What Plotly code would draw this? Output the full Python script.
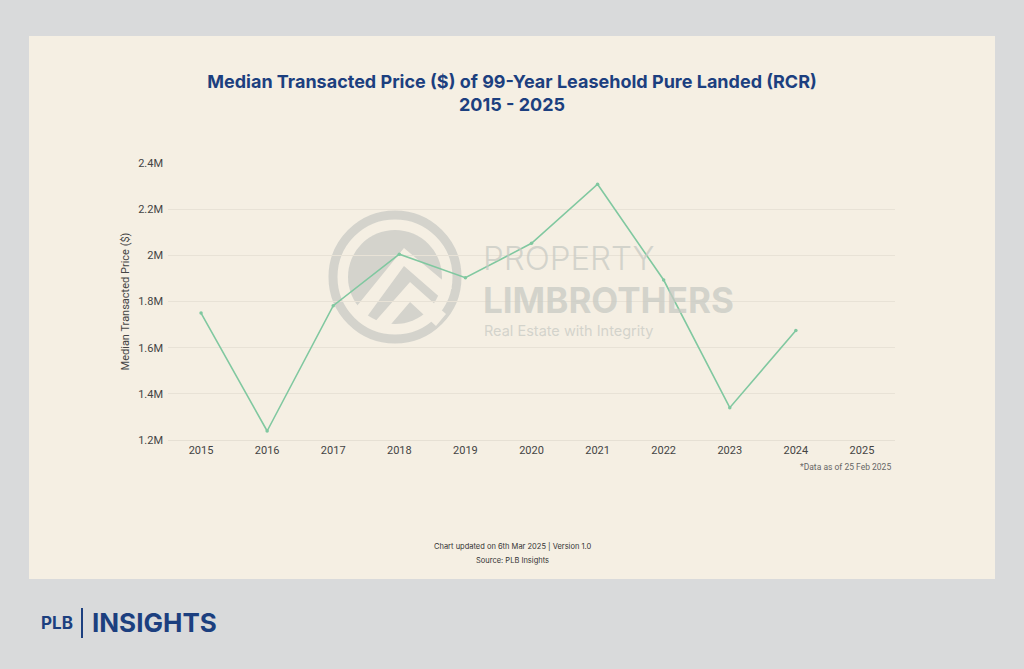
import plotly.graph_objects as go

years = ["2015", "2016", "2017", "2018", "2019", "2020", "2021", "2022", "2023", "2024", "2025"]
median_price = [1750000, 1239000, 1782000, 2005000, 1903000, 2052000, 2308000, 1893000, 1340000, 1674000, None]
y_tick_vals = [1200000, 1400000, 1600000, 1800000, 2000000, 2200000, 2400000]
y_tick_text = ["1.2M", "1.4M", "1.6M", "1.8M", "2M", "2.2M", "2.4M"]

W, H = 1024, 669
L, R, T, B = 168, 895, 163, 440  # plot-area pixel edges


def px(x):
    return (x - L) / (R - L)


def py(y):
    return (B - y) / (B - T)


NAVY = "#1c3f7f"
WM = "rgba(200,202,196,0.75)"
CARD = "#f5efe3"

fig = go.Figure()
fig.add_trace(go.Scatter(
    x=years, y=median_price, mode="lines+markers",
    line=dict(color="#80c8a0", width=1.6),
    marker=dict(size=3.5, color="#80c8a0"),
    connectgaps=False, showlegend=False,
    hovertemplate="%{x}: %{y:$,.0f}<extra></extra>",
))

shapes = [
    # card
    dict(type="rect", xref="paper", yref="paper", x0=px(29), x1=px(995), y0=py(579), y1=py(36),
         fillcolor=CARD, line=dict(width=0), layer="below"),
    # watermark circle ring
    dict(type="circle", xref="paper", yref="paper", x0=px(333), x1=px(457), y0=py(339), y1=py(215),
         line=dict(color=WM, width=9), fillcolor="rgba(0,0,0,0)", layer="below"),
    # inner disc
    dict(type="circle", xref="paper", yref="paper", x0=px(348), x1=px(442), y0=py(324), y1=py(230),
         line=dict(width=0), fillcolor=WM, layer="below"),
]
# chevron cut-outs in the disc
chev1 = [(352, 312), (404, 248), (452, 288), (443, 300), (404, 266), (366, 318)]
chev2 = [(372, 325), (410, 282), (446, 314), (436, 326), (410, 302), (386, 330)]
for ch in (chev1, chev2):
    path = "M " + " L ".join(f"{px(a):.4f},{py(b):.4f}" for a, b in ch) + " Z"
    shapes.append(dict(type="path", xref="paper", yref="paper", path=path,
                       fillcolor=CARD, line=dict(width=0), layer="below"))

annotations = [
    dict(text="PROPERTY", x=px(481), y=py(258), xanchor="left", yanchor="middle",
         font=dict(family="Inter", size=33, color=WM, weight=300)),
    dict(text="LIMBROTHERS", x=px(481), y=py(300), xanchor="left", yanchor="middle",
         font=dict(family="Inter", size=35, color=WM, weight=700)),
    dict(text="Real Estate with Integrity", x=px(482), y=py(331), xanchor="left", yanchor="middle",
         font=dict(family="Inter", size=14.5, color=WM)),
    dict(text="*Data as of 25 Feb 2025", x=px(893), y=py(467), xanchor="right", yanchor="middle",
         font=dict(family="Roboto", size=8.5, color="#666666")),
    dict(text="Chart updated on 6th Mar 2025 | Version 1.0", x=px(512), y=py(546), xanchor="center",
         yanchor="middle", font=dict(family="Inter", size=7.5, color="#333333")),
    dict(text="Source: PLB Insights", x=px(512), y=py(560), xanchor="center", yanchor="middle",
         font=dict(family="Inter", size=7.5, color="#333333")),
    dict(text="<b>PLB</b>", x=px(39), y=py(623), xanchor="left", yanchor="middle",
         font=dict(family="Inter", size=17, color=NAVY)),
    dict(text="<b>INSIGHTS</b>", x=px(90), y=py(622), xanchor="left", yanchor="middle",
         font=dict(family="Inter", size=26, color=NAVY)),
]
shapes.append(dict(type="line", xref="paper", yref="paper", x0=px(82), x1=px(82), y0=py(608), y1=py(638),
                   line=dict(color=NAVY, width=2)))
for a in annotations:
    a.update(xref="paper", yref="paper", showarrow=False)

fig.update_layout(
    width=W, height=H,
    margin=dict(l=L, r=W - R, t=T, b=H - B),
    paper_bgcolor="#d9dadb",
    plot_bgcolor="rgba(0,0,0,0)",
    title=dict(
        text="Median Transacted Price ($) of 99-Year Leasehold Pure Landed (RCR)<br>2015 - 2025",
        x=0.5, xref="container", xanchor="center", y=1 - 88 / H, yanchor="middle",
        font=dict(family="Inter", size=18, color=NAVY, weight=700),
    ),
    shapes=shapes,
    annotations=annotations,
    xaxis=dict(type="category", range=[-0.5, 10.5], showgrid=False, showline=True,
               linecolor="#e6e0d4", linewidth=1, ticks="", zeroline=False,
               tickfont=dict(family="Roboto", size=11, color="#444444")),
    yaxis=dict(range=[1200000, 2400000], tickvals=y_tick_vals, ticktext=y_tick_text,
               showgrid=True, gridcolor="#e8e2d6", gridwidth=1, zeroline=False, ticks="",
               ticklabelstandoff=4,
               tickfont=dict(family="Roboto", size=11, color="#444444"),
               title=dict(text="Median Transacted Price ($)", standoff=6,
                          font=dict(family="Roboto", size=11, color="#444444"))),
    font=dict(family="Roboto"),
)

fig.write_html("out.html")
